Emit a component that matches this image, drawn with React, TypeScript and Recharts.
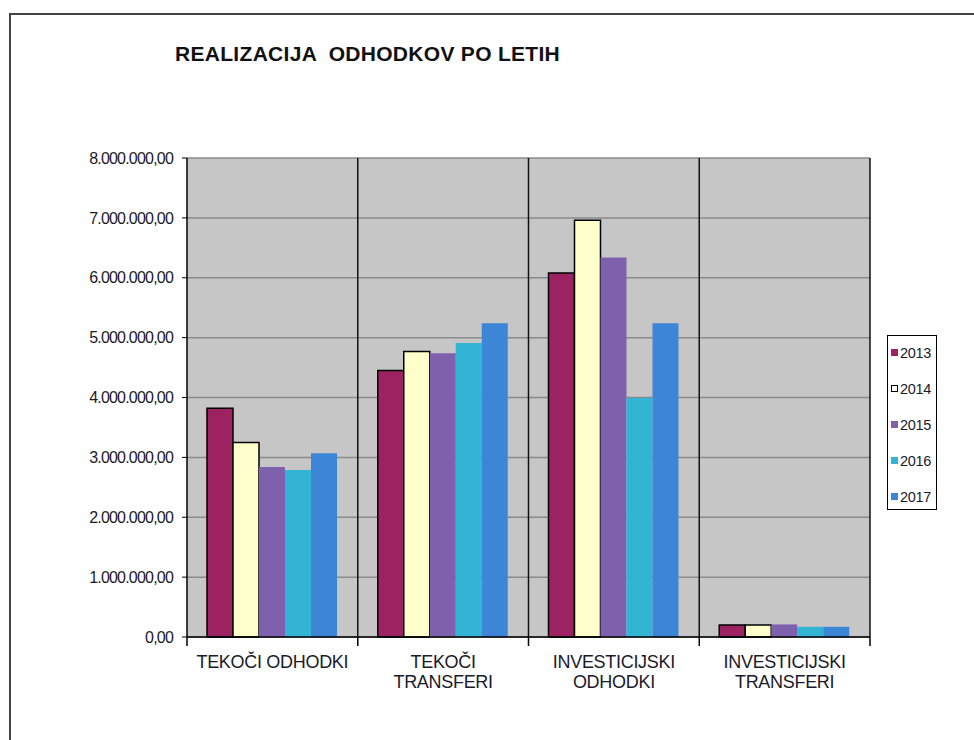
import React from "react";
import { BarChart, Bar, XAxis, YAxis, CartesianGrid, Legend } from "recharts";

const categories = ["TEKOČI ODHODKI", "TEKOČI\nTRANSFERI", "INVESTICIJSKI\nODHODKI", "INVESTICIJSKI\nTRANSFERI"];
const years = ["2013", "2014", "2015", "2016", "2017"];
const v2013 = [3820000, 4450000, 6080000, 200000];
const v2014 = [3250000, 4770000, 6960000, 200000];
const v2015 = [2840000, 4740000, 6340000, 210000];
const v2016 = [2790000, 4910000, 3990000, 170000];
const v2017 = [3070000, 5240000, 5240000, 170000];
const yTicks = [0, 1000000, 2000000, 3000000, 4000000, 5000000, 6000000, 7000000, 8000000];

const colors = ["#9C2262", "#FFFFCC", "#7E60AC", "#32B5D5", "#3C85D7"];
const strokes = ["#000", "#000", "none", "none", "none"];

const series = [v2013, v2014, v2015, v2016, v2017];
const data = categories.map((name, i) => {
  const row: any = { name };
  years.forEach((y, j) => (row[y] = series[j][i]));
  return row;
});

const fmt = (v: number) => {
  const s = Math.round(v).toString().replace(/\B(?=(\d{3})+(?!\d))/g, ".");
  return s + ",00";
};

const font = "'Liberation Sans', Arial, sans-serif";

const XTick = (props: any) => {
  const { x, y, payload, index, visibleTicksCount } = props;
  const half = payload.offset || 0;
  const lines = String(payload.value).split("\n");
  return (
    <g>
      <line x1={x - half} y1={y} x2={x - half} y2={y + 9} stroke="#000" strokeWidth={1.5} />
      {index === visibleTicksCount - 1 && (
        <line x1={x + half} y1={y} x2={x + half} y2={y + 9} stroke="#000" strokeWidth={1.5} />
      )}
      {lines.map((l: string, i: number) => (
        <text key={i} x={x} y={y + 31 + i * 20} textAnchor="middle" fontSize={18} fontFamily={font} fill="#1a1a2a" letterSpacing={-0.3}>
          {l}
        </text>
      ))}
    </g>
  );
};

const LegendBox = () => (
  <div style={{ position: "absolute", left: 887, top: 335, width: 50, height: 175, border: "1px solid #000", background: "#fff", boxSizing: "border-box", fontFamily: font, fontSize: 14.5, color: "#1a1a2a" }}>
    {years.map((y, i) => (
      <div key={y} style={{ position: "absolute", left: 3, top: 8 + i * 36, display: "flex", alignItems: "center", height: 17, whiteSpace: "nowrap" }}>
        <span style={{ display: "inline-block", width: 7, height: 7, background: i === 1 ? "#fff" : colors[i], border: i === 1 ? "1.5px solid #000" : "none", boxSizing: "border-box", marginRight: 2 }} />
        <span style={{ letterSpacing: -0.3 }}>{y}</span>
      </div>
    ))}
  </div>
);

const boundaries = (props: any) => {
  const { offset } = props;
  const n = categories.length;
  return categories.map((_, k) => offset.left + ((k + 1) * offset.width) / n);
};

export default function App() {
  return (
    <div style={{ position: "absolute", left: 0, top: 0, width: 974, height: 740, background: "#fff", overflow: "hidden" }}>
      <div style={{ position: "absolute", left: 9, top: 13, width: 980, height: 740, borderTop: "2px solid #444", borderLeft: "2px solid #444" }} />
      <div style={{ position: "absolute", left: 175, top: 42, fontFamily: font, fontWeight: "bold", fontSize: 21, color: "#111", whiteSpace: "pre", letterSpacing: 0.3 }}>
        {"REALIZACIJA  ODHODKOV PO LETIH"}
      </div>
      <BarChart width={974} height={740} data={data} margin={{ top: 158, right: 104, bottom: 43, left: 7 }} barCategoryGap={20} barGap={0} style={{ position: "absolute", left: 0, top: 0 }}>
        <CartesianGrid vertical={false} fill="#C6C6C6" stroke="#8A8A8A" strokeWidth={1.5} />
        <CartesianGrid horizontal={false} stroke="#111" strokeWidth={1.5} verticalCoordinatesGenerator={boundaries} />
        <XAxis dataKey="name" interval={0} height={60} axisLine={{ stroke: "#000", strokeWidth: 1.5 }} tickLine={false} tickSize={0} tickMargin={0} tick={<XTick />} />
        <YAxis width={180} domain={[0, 8000000]} ticks={yTicks} tickFormatter={fmt} axisLine={{ stroke: "#000", strokeWidth: 1.5 }} tickLine={{ stroke: "#000" }} tickSize={5} tickMargin={9} tick={{ fontSize: 16, fontFamily: font, fill: "#1a1a2a", letterSpacing: -0.8 }} />
        {years.map((y, i) => (
          <Bar key={y} dataKey={y} fill={colors[i]} stroke={strokes[i]} strokeWidth={1.5} isAnimationActive={false} />
        ))}
        <Legend content={<LegendBox />} wrapperStyle={{ position: "absolute", left: 0, top: 0, width: 0, height: 0 }} />
      </BarChart>
    </div>
  );
}
